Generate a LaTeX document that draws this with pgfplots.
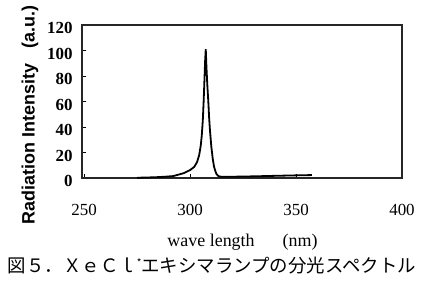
\documentclass[border=0pt]{standalone}
\usepackage{pgfplots}
\pgfplotsset{compat=1.18}
\usepackage{fontspec}
\setmainfont{Liberation Serif}
\newfontfamily\sansb{Liberation Sans}
\newfontfamily\cjk{Noto Sans CJK JP}
\pgfplotstableread{
x y
275 0.2
280 0.4
285 0.7
289 1.1
292 1.5
294 2.4
297 3.8
300 6.2
302 8.8
303.3 12.5
304.3 18
305.0 25
305.5 33
306.0 45
306.4 60
306.8 78
307.1 92
307.4 101
307.7 88
308.1 74
308.6 60
309.0 47
309.4 37
310.0 25
310.7 15
311.3 9
311.8 6
312.5 3
313.4 1.4
315 0.9
320 1.0
330 1.3
340 1.7
348 2.0
357.5 2.3
}\spectrum
\begin{document}
\begin{tikzpicture}[x=1bp,y=1bp]
\path[use as bounding box] (0,0) rectangle (424,283);
\begin{axis}[
  at={(82bp,105bp)}, anchor=south west,
  scale only axis, width=320bp, height=153bp,
  xmin=249, xmax=400, ymin=0, ymax=120,
  xtick={250,300,350,400}, ytick={0,20,...,120},
  tick align=inside, major tick length=4bp,
  xtick pos=bottom, ytick pos=left,
  axis line style={line width=1.2bp, black!85},
  tick style={line width=0.8bp, black},
  /pgf/number format/assume math mode=true,
  xticklabel style={font=\fontsize{17}{17}\selectfont, yshift=-23bp},
  yticklabel style={font=\fontsize{17}{17}\selectfont\bfseries, xshift=-6bp, yshift=-3bp},
  clip=false,
]
\addplot[black, line width=1.8bp] table[x=x,y=y] {\spectrum};
\end{axis}
\node[rotate=90, font=\sansb\bfseries\fontsize{18}{18}\selectfont] at (30,168) {Radiation Intensity\hspace{15bp}(a.u.)};
\node[font=\fontsize{18}{18}\selectfont] at (242.5,41) {wave length\hspace{28bp}(nm)};
\node[font=\cjk\fontsize{18.5}{18.5}\selectfont] at (212,17) {図５．ＸｅＣｌ\raisebox{0.6ex}{\fontsize{10}{10}\selectfont *}エキシマランプの分光スペクトル};
\end{tikzpicture}
\end{document}
